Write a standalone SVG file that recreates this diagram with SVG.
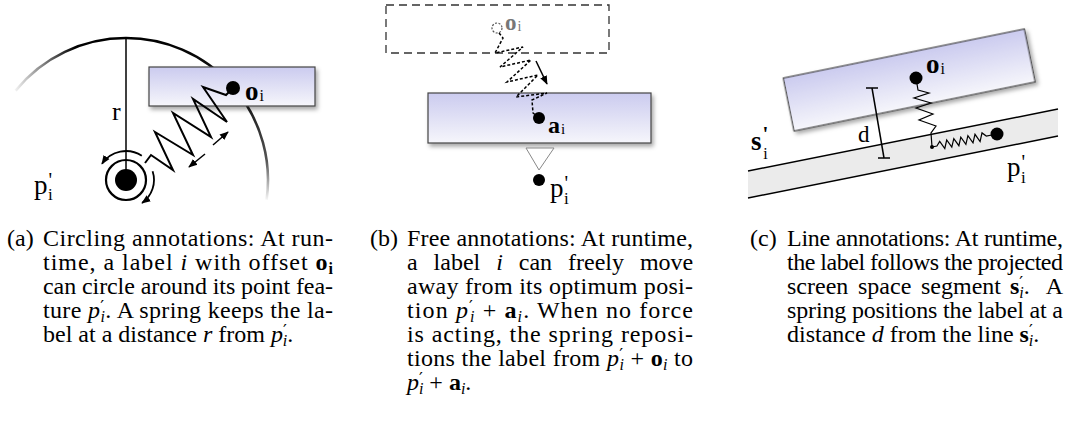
<svg xmlns="http://www.w3.org/2000/svg" width="1072" height="438" viewBox="0 0 1072 438">
<style>
.cap{font-family:"Liberation Serif","Times New Roman",serif;font-size:24px;fill:#000}
.lb{font-family:"Liberation Serif","Times New Roman",serif;fill:#000}
.box{stroke:#444;stroke-width:1.2;fill:url(#lab);filter:url(#sh)}
.ln{fill:none;stroke:#000;stroke-width:1.5}
.spr{fill:none;stroke:#000;stroke-width:2;stroke-linejoin:miter}
.it{font-style:italic}
.bf{font-weight:bold}
.pr{font-family:"DejaVu Serif",serif;font-size:17px}
</style>
<defs>
<linearGradient id="lab" x1="0" y1="0" x2="0" y2="1">
<stop offset="0" stop-color="#cbcbef"/>
<stop offset="1" stop-color="#f6f6fb"/>
</linearGradient>
<linearGradient id="arcL" gradientUnits="userSpaceOnUse" x1="12" y1="0" x2="75" y2="0">
<stop offset="0" stop-color="#000" stop-opacity="0"/>
<stop offset="1" stop-color="#000" stop-opacity="1"/>
</linearGradient>
<linearGradient id="arcR" gradientUnits="userSpaceOnUse" x1="0" y1="38" x2="0" y2="202">
<stop offset="0" stop-color="#000"/>
<stop offset="0.45" stop-color="#222"/>
<stop offset="0.75" stop-color="#555"/>
<stop offset="1" stop-color="#555" stop-opacity="0"/>
</linearGradient>
<filter id="sh" x="-10%" y="-20%" width="130%" height="170%">
<feDropShadow dx="2" dy="3" stdDeviation="2" flood-color="#000" flood-opacity="0.35"/>
</filter>
<marker id="ah" viewBox="0 0 10 10" refX="9" refY="5" markerWidth="9" markerHeight="9" orient="auto" markerUnits="userSpaceOnUse">
<path d="M0,1 L10,5 L0,9 z" fill="#000"/>
</marker>
</defs>

<!-- Panel (a) -->
<g id="a-range">
<path d="M15.6,90.6 A142,142 0 0 1 126,38" fill="none" stroke="url(#arcL)" stroke-width="2.6"/>
<path d="M126,38 A142,142 0 0 1 266.6,199.8" fill="none" stroke="url(#arcR)" stroke-width="2.6"/>
<line x1="126" y1="38" x2="126" y2="180" class="ln"/>
<text class="lb" x="112" y="120" font-size="26">r</text>
</g>
<g id="a-label">
<rect x="149" y="67" width="166" height="39" class="box"/>
<text class="lb" x="245" y="100" font-size="27"><tspan class="bf">o</tspan><tspan font-size="16" dx="1" dy="1">i</tspan></text>
</g>
<g id="a-point">
<circle cx="126" cy="180" r="20" fill="none" stroke="#000" stroke-width="2.2"/>
<circle cx="126" cy="180" r="11" fill="#000"/>
<text class="lb" x="34" y="194" font-size="27">p<tspan font-size="20" dx="1" dy="-7">'</tspan><tspan font-size="17" dx="-4" dy="13">i</tspan></text>
</g>

<!-- Panel (b) -->
<g id="b-old">
<rect x="386" y="5" width="223" height="48" fill="none" stroke="#333" stroke-width="1.3" stroke-dasharray="8,5"/>
<circle cx="497" cy="28" r="5" fill="none" stroke="#555" stroke-width="1.2" stroke-dasharray="2,1.5"/>
<text class="lb" x="505" y="30" font-size="23" style="fill:#777"><tspan class="bf">o</tspan><tspan font-size="14" dx="1" dy="1">i</tspan></text>
</g>
<g id="b-label">
<rect x="428" y="93" width="223" height="50" class="box"/>
<text class="lb" x="548" y="133" font-size="24"><tspan class="bf">a</tspan><tspan font-size="15" dx="1" dy="1">i</tspan></text>
</g>
<g id="b-point">
<polygon points="526,148 554,148 539,170" fill="#fff" stroke="#888" stroke-width="1"/>
<circle cx="539" cy="180" r="6" fill="#000"/>
<text class="lb" x="550" y="197" font-size="27">p<tspan font-size="20" dx="1" dy="-7">'</tspan><tspan font-size="17" dx="-4" dy="14">i</tspan></text>
</g>

<!-- Panel (c) -->
<g id="c-line">
<polygon points="748,171 1058,109 1058,136 748,198" fill="#ebebeb"/>
<line x1="748" y1="171" x2="1058" y2="109" class="ln"/>
<line x1="748" y1="198" x2="1058" y2="136" class="ln"/>
<text class="lb" x="751" y="150" font-size="27"><tspan class="bf">s</tspan><tspan class="bf" font-size="21" dx="1" dy="-9">'</tspan><tspan font-size="16" dx="-5" dy="18">i</tspan></text>
<text class="lb" x="1007" y="176" font-size="27">p<tspan font-size="20" dx="1" dy="-7">'</tspan><tspan font-size="17" dx="-4" dy="14">i</tspan></text>
</g>
<g id="c-label">
<rect x="786.25" y="53" width="246" height="54" class="box" transform="rotate(-11.5 909.25 80)"/>
<text class="lb" x="926" y="73" font-size="27"><tspan class="bf">o</tspan><tspan font-size="16" dx="1" dy="1">i</tspan></text>
</g>
<g id="c-distance">
<line x1="872" y1="88" x2="884" y2="158" class="ln"/>
<line x1="866" y1="88" x2="878" y2="88" class="ln"/>
<line x1="878" y1="158" x2="890" y2="158" class="ln"/>
<text class="lb" x="858" y="142" font-size="23">d</text>
</g>

<!-- Connectors -->
<g id="connectors">
<path class="spr" d="M145,163 L151,155 L173,170 L155,132 L193,155 L173,113 L211,137 L193,99 L227,122 L203,87 L226,95 L233,88"/>
<line x1="205" y1="154" x2="189" y2="167" stroke="#000" stroke-width="1.5" marker-end="url(#ah)"/>
<line x1="213" y1="145" x2="228" y2="132" stroke="#000" stroke-width="1.5" marker-end="url(#ah)"/>
<path d="M141.8,155.7 A29,29 0 0 0 102,163.8" fill="none" stroke="#000" stroke-width="1.8" marker-end="url(#ah)"/>
<path d="M152.6,171.3 A28,28 0 0 1 142.1,202.9" fill="none" stroke="#000" stroke-width="1.8" marker-end="url(#ah)"/>
<circle cx="233" cy="88" r="7" fill="#000"/>

<path d="M499,33 L503,38 L495,53 L523,47 L500,67 L531,60 L507,82 L538,75 L516,97 L547,93 L532,100 L533,113 L539,118" fill="none" stroke="#000" stroke-width="1.5" stroke-dasharray="3,2"/>
<line x1="536" y1="61" x2="547" y2="84" stroke="#000" stroke-width="1.5" marker-end="url(#ah)"/>
<circle cx="539" cy="118" r="6" fill="#000"/>

<path d="M917,84 L918,90 L929,93 L914,98 L931,103 L916,108 L933,114 L919,120 L936,126 L931,133 L932,147" fill="none" stroke="#000" stroke-width="1.2"/>
<path d="M932,147 L936.9,146 L939.7,141.4 L944.8,148.5 L946.7,140 L951.8,147.1 L953.8,138.6 L958.9,145.7 L960.8,137.2 L965.9,144.3 L967.9,135.7 L973,142.9 L975,134.3 L980.1,141.5 L982,132.9 L986.3,136.1 L997,134" fill="none" stroke="#000" stroke-width="1.2"/>
<circle cx="932" cy="147" r="2" fill="#000"/>
<circle cx="997" cy="134" r="6.5" fill="#000"/>
<circle cx="916" cy="78" r="6.5" fill="#000"/>
</g>

<!-- Captions -->
<g id="caption-a">
<text class="cap" x="7" y="246">(a)</text>
<text class="cap" x="43" y="246" textLength="290" lengthAdjust="spacing">Circling annotations: At run-</text>
<text class="cap" x="43" y="270" textLength="290" lengthAdjust="spacing">time, a label <tspan class="it">i</tspan> with offset <tspan class="bf">o<tspan font-size="16" dy="4">i</tspan></tspan></text>
<text class="cap" x="43" y="294" textLength="290" lengthAdjust="spacing">can circle around its point fea-</text>
<text class="cap" x="43" y="318" textLength="290" lengthAdjust="spacing">ture <tspan class="it">p</tspan><tspan class="pr" dx="0" dy="-6">′</tspan><tspan font-size="16" class="it" dx="-4" dy="10">i</tspan><tspan dy="-4">. A spring keeps the la-</tspan></text>
<text class="cap" x="43" y="342">bel at a distance <tspan class="it">r</tspan> from <tspan class="it">p</tspan><tspan class="pr" dx="0" dy="-6">′</tspan><tspan font-size="16" class="it" dx="-4" dy="10">i</tspan><tspan dy="-4">.</tspan></text>
</g>
<g id="caption-b">
<text class="cap" x="370" y="246">(b)</text>
<text class="cap" x="407" y="246" textLength="286" lengthAdjust="spacing">Free annotations: At runtime,</text>
<text class="cap" y="270"><tspan x="407">a</tspan><tspan x="433.6">label</tspan><tspan x="496.2" class="it">i</tspan><tspan x="518.8">can</tspan><tspan x="568">freely</tspan><tspan x="639.9">move</tspan></text>
<text class="cap" x="407" y="294" textLength="286" lengthAdjust="spacing">away from its optimum posi-</text>
<text class="cap" x="407" y="318" textLength="286" lengthAdjust="spacing">tion <tspan class="it">p</tspan><tspan class="pr" dx="0" dy="-6">′</tspan><tspan font-size="16" class="it" dx="-4" dy="10">i</tspan><tspan dy="-4"> + </tspan><tspan class="bf">a</tspan><tspan font-size="16" class="it" dy="4">i</tspan><tspan dy="-4">.  When no force</tspan></text>
<text class="cap" x="407" y="342" textLength="286" lengthAdjust="spacing">is acting, the spring reposi-</text>
<text class="cap" x="407" y="366" textLength="286" lengthAdjust="spacing">tions the label from <tspan class="it">p</tspan><tspan class="pr" dx="0" dy="-6">′</tspan><tspan font-size="16" class="it" dx="-4" dy="10">i</tspan><tspan dy="-4"> + </tspan><tspan class="bf">o</tspan><tspan font-size="16" class="it" dy="4">i</tspan><tspan dy="-4"> to</tspan></text>
<text class="cap" x="407" y="390"><tspan class="it">p</tspan><tspan class="pr" dx="0" dy="-6">′</tspan><tspan font-size="16" class="it" dx="-4" dy="10">i</tspan><tspan dy="-4"> + </tspan><tspan class="bf">a</tspan><tspan font-size="16" class="it" dy="4">i</tspan><tspan dy="-4">.</tspan></text>
</g>
<g id="caption-c">
<text class="cap" x="750" y="246">(c)</text>
<text class="cap" x="787" y="246" textLength="276" lengthAdjust="spacing">Line annotations: At runtime,</text>
<text class="cap" x="787" y="270" textLength="276" lengthAdjust="spacing">the label follows the projected</text>
<text class="cap" y="294"><tspan x="787">screen</tspan><tspan x="858">space</tspan><tspan x="921">segment</tspan><tspan x="1010" class="bf">s</tspan><tspan class="pr" dx="0" dy="-6">′</tspan><tspan font-size="16" class="it" dx="-4" dy="10">i</tspan><tspan dy="-4">.</tspan><tspan x="1045.7">A</tspan></text>
<text class="cap" x="787" y="318" textLength="276" lengthAdjust="spacing">spring positions the label at a</text>
<text class="cap" x="787" y="342">distance <tspan class="it">d</tspan> from the line <tspan class="bf">s</tspan><tspan class="pr" dx="0" dy="-6">′</tspan><tspan font-size="16" class="it" dx="-4" dy="10">i</tspan><tspan dy="-4">.</tspan></text>
</g>
</svg>
